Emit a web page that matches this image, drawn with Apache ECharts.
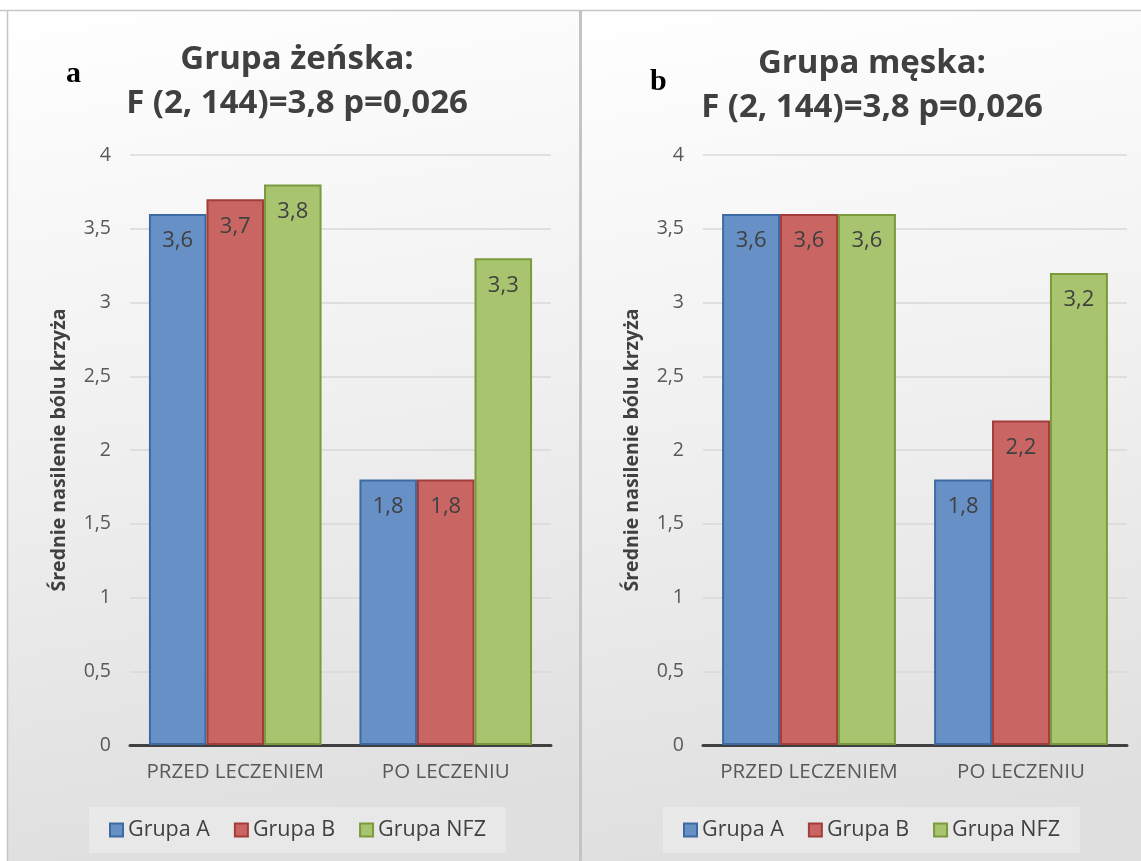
<!DOCTYPE html>
<html>
<head>
<meta charset="utf-8">
<script src="https://cdn.jsdelivr.net/npm/echarts@6/dist/echarts.min.js"></script>
<style>
  html, body { margin: 0; padding: 0; background: #ffffff; }
  #chart { width: 1141px; height: 861px; }
</style>
</head>
<body>
<div id="chart"></div>
<script>
// Periods compared in each panel
const categories = ['PRZED LECZENIEM', 'PO LECZENIU'];
const groupNames = ['Grupa A', 'Grupa B', 'Grupa NFZ'];

// Women: mean low-back pain intensity per group
const womenA = [3.6, 1.8];
const womenB = [3.7, 1.8];
const womenNFZ = [3.8, 3.3];

// Men: mean low-back pain intensity per group
const menA = [3.6, 1.8];
const menB = [3.6, 2.2];
const menNFZ = [3.6, 3.2];

const yTicks = { min: 0, max: 4, interval: 0.5 };
const yAxisTitle = 'Średnie nasilenie bólu krzyża';
const panelTitles = ['Grupa żeńska:\nF (2, 144)=3,8 p=0,026', 'Grupa męska:\nF (2, 144)=3,8 p=0,026'];
const panelLetters = ['a', 'b'];

const FONT = '"Open Sans", sans-serif';
const palette = [
  { fill: '#6690c6', stroke: '#3d6aa2' },
  { fill: '#c96663', stroke: '#a33d3a' },
  { fill: '#a9c46e', stroke: '#7b9a3d' }
];

const comma = v => String(v).replace('.', ',');

const grids = [
  { left: 130, top: 155, width: 421, height: 590 },
  { left: 703, top: 155, width: 424, height: 590 }
];

function yAxisFor(i) {
  return {
    type: 'value', gridIndex: i,
    min: yTicks.min, max: yTicks.max, interval: yTicks.interval,
    name: yAxisTitle, nameLocation: 'middle', nameGap: 61,
    nameTextStyle: { fontFamily: FONT, fontWeight: 'bold', fontSize: 19.5, color: '#404040' },
    axisLine: { show: false }, axisTick: { show: false },
    axisLabel: { margin: 19, fontFamily: FONT, fontSize: 19.5, color: '#595959', formatter: comma },
    splitLine: { lineStyle: { color: '#d9d9d9', width: 1.5 } }
  };
}

function xAxisFor(i) {
  return {
    type: 'category', gridIndex: i, data: categories,
    axisLine: { lineStyle: { color: '#404040', width: 3 } },
    axisTick: { show: false },
    axisLabel: { interval: 0, hideOverlap: false, margin: 17, fontFamily: FONT, fontSize: 20.5, color: '#595959' }
  };
}

function barSeries(name, data, idx, axisIdx) {
  return {
    type: 'bar', name, data,
    xAxisIndex: axisIdx, yAxisIndex: axisIdx,
    barGap: '0%', barCategoryGap: '18%',
    itemStyle: { color: palette[idx].fill, borderColor: palette[idx].stroke, borderWidth: 2 },
    label: {
      show: true, position: 'insideTop', distance: 16,
      fontFamily: FONT, fontSize: 22, color: '#404040',
      formatter: p => comma(p.value)
    },
    emphasis: { disabled: true }
  };
}

function legendFor(left) {
  return {
    left, top: 807, orient: 'horizontal',
    data: groupNames, icon: 'rect', itemWidth: 13, itemHeight: 13, itemGap: 24,
    padding: [12, 20, 12, 20],
    backgroundColor: 'rgba(255,255,255,0.28)',
    textStyle: { fontFamily: FONT, fontSize: 21.5, color: '#404040' },
    selectedMode: false
  };
}

const panelBg = {
  type: 'linear', x: 0, y: 0, x2: 0.25, y2: 1,
  colorStops: [
    { offset: 0, color: '#ffffff' },
    { offset: 0.5, color: '#f0f0f0' },
    { offset: 1, color: '#dfdfdf' }
  ]
};

const titleStyle = { fontFamily: FONT, fontWeight: 'bold', fontSize: 33, lineHeight: 44, color: '#404040' };
const letterStyle = { fontFamily: '"Liberation Serif", serif', fontWeight: 'bold', fontSize: 30, color: '#000000' };

const option = {
  animation: false,
  title: [
    { text: panelTitles[0], left: 292, top: 33, textAlign: 'center', textStyle: titleStyle },
    { text: panelTitles[1], left: 867, top: 37, textAlign: 'center', textStyle: titleStyle },
    { text: panelLetters[0], left: 61, top: 54, textStyle: letterStyle },
    { text: panelLetters[1], left: 645, top: 62, textStyle: letterStyle }
  ],
  graphic: [
    { type: 'rect', z: -100, shape: { x: 7, y: 10, width: 573, height: 851 }, style: { fill: panelBg } },
    { type: 'rect', z: -100, shape: { x: 581, y: 10, width: 560, height: 851 }, style: { fill: panelBg } },
    { type: 'line', z: -90, shape: { x1: 0, y1: 10.5, x2: 1141, y2: 10.5 }, style: { stroke: '#c6c6c6', lineWidth: 1.5 } },
    { type: 'line', z: -90, shape: { x1: 7.5, y1: 10, x2: 7.5, y2: 861 }, style: { stroke: '#c6c6c6', lineWidth: 1.5 } },
    { type: 'line', z: -90, shape: { x1: 580.5, y1: 10, x2: 580.5, y2: 861 }, style: { stroke: '#c4c4c4', lineWidth: 3 } }
  ],
  legend: [legendFor(89), legendFor(663)],
  grid: grids,
  xAxis: [xAxisFor(0), xAxisFor(1)],
  yAxis: [yAxisFor(0), yAxisFor(1)],
  series: [
    barSeries(groupNames[0], womenA, 0, 0),
    barSeries(groupNames[1], womenB, 1, 0),
    barSeries(groupNames[2], womenNFZ, 2, 0),
    barSeries(groupNames[0], menA, 0, 1),
    barSeries(groupNames[1], menB, 1, 1),
    barSeries(groupNames[2], menNFZ, 2, 1)
  ]
};

const chart = echarts.init(document.getElementById('chart'), null, { renderer: 'canvas' });
chart.setOption(option);
</script>
</body>
</html>
